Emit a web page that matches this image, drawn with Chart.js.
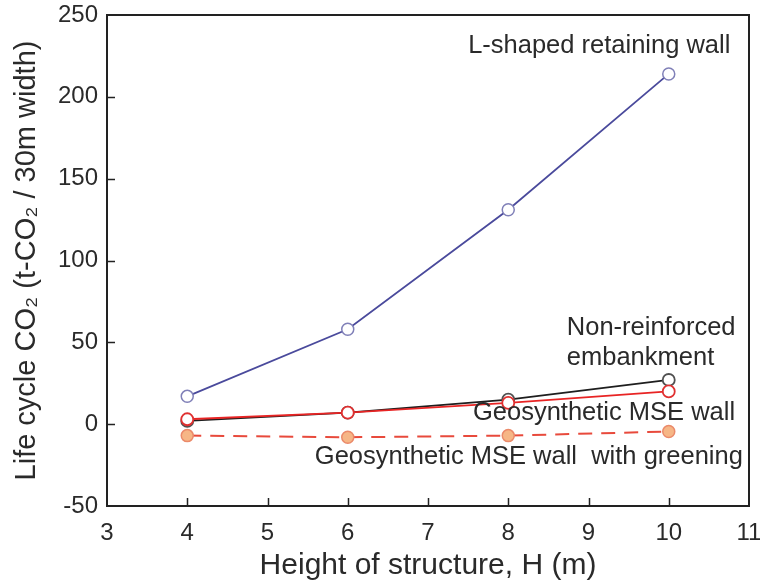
<!DOCTYPE html>
<html>
<head>
<meta charset="utf-8">
<script src="https://cdn.jsdelivr.net/npm/chart.js@4.4.1/dist/chart.umd.min.js"></script>
<style>
html,body{margin:0;padding:0;background:#fff;}
#wrap{width:760px;height:585px;}
</style>
</head>
<body>
<div id="wrap"><canvas id="c" width="760" height="585"></canvas></div>
<script>
const heights = [4, 6, 8, 10];
const lShaped = [17, 58, 131, 214];
const nonReinforced = [2, 7, 15, 27];
const mseWall = [3, 7, 13, 20];
const mseGreening = [-7, -8, -7, -4.5];
const xTicks = [3, 4, 5, 6, 7, 8, 9, 10, 11];
const yTicks = [-50, 0, 50, 100, 150, 200, 250];

const FONT = '"Liberation Sans", Arial, sans-serif';
const toPts = arr => heights.map((h, i) => ({x: h, y: arr[i]}));

const labels = [
  {lines: ['L-shaped retaining wall'], x: 7.50, y: 231},
  {lines: ['Non-reinforced', 'embankment'], x: 8.73, y: 58.6},
  {lines: ['Geosynthetic MSE wall'], x: 7.56, y: 6.7},
  {lines: ['Geosynthetic MSE wall  with greening'], x: 5.59, y: -20.2}
];

const framePlugin = {
  id: 'frame',
  afterDraw(chart) {
    const {ctx, chartArea: a, scales} = chart;
    ctx.save();
    ctx.strokeStyle = '#222';
    ctx.lineWidth = 1.5;
    ctx.beginPath();
    xTicks.forEach(v => {
      if (v === 3 || v === 11) return;
      const px = Math.round(scales.x.getPixelForValue(v)) + 0.5;
      ctx.moveTo(px, a.bottom); ctx.lineTo(px, a.bottom - 8);
    });
    yTicks.forEach(v => {
      if (v === -50 || v === 250) return;
      const py = Math.round(scales.y.getPixelForValue(v)) + 0.5;
      ctx.moveTo(a.left, py); ctx.lineTo(a.left + 8, py);
    });
    ctx.stroke();
    ctx.lineWidth = 2;
    ctx.strokeRect(a.left, a.top, a.right - a.left, a.bottom - a.top);
    ctx.fillStyle = '#2a2a2a';
    ctx.font = '25.5px ' + FONT;
    ctx.textAlign = 'left';
    ctx.textBaseline = 'middle';
    labels.forEach(l => {
      const px = scales.x.getPixelForValue(l.x);
      const py = scales.y.getPixelForValue(l.y);
      l.lines.forEach((t, i) => ctx.fillText(t, px, py + i * 30));
    });
    ctx.restore();
  }
};

new Chart(document.getElementById('c'), {
  type: 'line',
  data: {
    datasets: [
      {data: toPts(lShaped), borderColor: '#4a4a9c', borderWidth: 1.8,
       pointRadius: 6, pointBorderWidth: 1.5, pointBorderColor: '#8080b8', pointBackgroundColor: '#ffffff'},
      {data: toPts(mseGreening), borderColor: '#e84a3c', borderWidth: 2, borderDash: [14, 9],
       pointRadius: 6, pointBorderWidth: 1.5, pointBorderColor: '#eb8a6a', pointBackgroundColor: '#f6b686'},
      {data: toPts(mseWall), borderColor: '#e82424', borderWidth: 1.8,
       pointRadius: 6, pointBorderWidth: 1.8, pointBorderColor: '#e03030', pointBackgroundColor: '#ffffff'},
      {data: toPts(nonReinforced), borderColor: '#1e1e1e', borderWidth: 1.8,
       pointRadius: 6, pointBorderWidth: 1.8, pointBorderColor: '#505050', pointBackgroundColor: '#ffffff'}
    ]
  },
  options: {
    responsive: false,
    animation: false,
    layout: {padding: {left: 0, right: 11, top: 15, bottom: 0}},
    plugins: {legend: {display: false}, tooltip: {enabled: false}},
    scales: {
      x: {
        type: 'linear', min: 3, max: 11,
        afterFit(s) { s.height = 79; s.paddingLeft = 0; s.paddingRight = 0; },
        afterBuildTicks(s) { s.ticks = xTicks.map(v => ({value: v})); },
        grid: {display: false, drawTicks: false},
        border: {display: false},
        ticks: {color: '#2a2a2a', font: {family: FONT, size: 24}, padding: 13},
        title: {display: true, text: 'Height of structure, H (m)', color: '#2a2a2a',
                font: {family: FONT, size: 30}, padding: {top: 0, bottom: 1}}
      },
      y: {
        min: -50, max: 250,
        afterFit(s) { s.width = 107; s.paddingTop = 0; s.paddingBottom = 0; },
        afterBuildTicks(s) { s.ticks = yTicks.map(v => ({value: v})); },
        grid: {display: false, drawTicks: false},
        border: {display: false},
        ticks: {color: '#2a2a2a', font: {family: FONT, size: 24}, padding: 9},
        title: {display: true, text: 'Life cycle CO₂ (t-CO₂ / 30m width)', color: '#2a2a2a',
                font: {family: FONT, size: 29}, padding: {top: 10, bottom: 0}}
      }
    }
  },
  plugins: [framePlugin]
});
</script>
</body>
</html>
